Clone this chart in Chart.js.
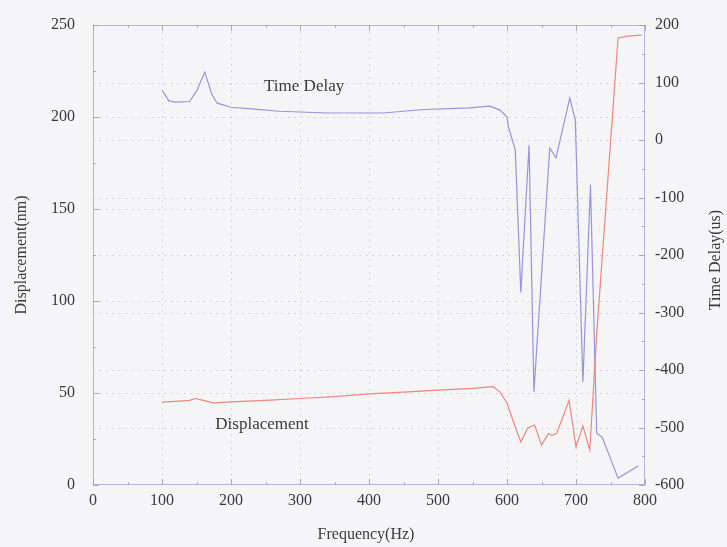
<!DOCTYPE html>
<html>
<head>
<meta charset="utf-8">
<script src="https://cdn.jsdelivr.net/npm/chart.js@4/dist/chart.umd.min.js"></script>
<style>
  body { margin: 0; background: #f5f5f7; }
  #wrap { width: 727px; height: 547px; }
</style>
</head>
<body>
<div id="wrap"><canvas id="chart" width="727" height="547"></canvas></div>
<script>
// Displacement (left axis, nm)
const dispFreq = [100, 120, 140, 148, 160, 175, 200, 250, 300, 350, 400, 450, 500, 550, 580,
    590, 600, 610, 620, 630, 640, 650, 660, 665, 672, 690, 700, 710, 720, 730, 761, 775, 795];
const dispValues = [45, 45.5, 46, 47, 46, 44.6, 45.2, 46, 47, 48, 49.5, 50.5, 51.6, 52.5, 53.5,
    50.5, 44.6, 33.7, 23.4, 31, 32.6, 21.7, 28, 27, 28, 46, 20.7, 32, 19, 82, 243, 244, 244.5];

// Time delay (right axis, us)
const delayFreq = [100, 110, 120, 140, 150, 162, 172, 180, 200, 230, 270, 340, 420, 480, 546, 575,
    590, 600, 602, 612, 620, 632, 639, 662, 671, 691, 699, 710, 721, 730, 738, 761, 790];
const delayValues = [87, 68, 66, 67, 85, 118, 80, 64, 57, 54, 50, 47, 47, 53, 56, 59,
    52, 40, 23, -17, -265, -9, -438, -14, -31, 73, 35, -421, -78, -510, -517, -588, -567];

const freqTicks = [0, 100, 200, 300, 400, 500, 600, 700, 800];
const dispTicks = [0, 50, 100, 150, 200, 250];
const delayTicks = [-600, -500, -400, -300, -200, -100, 0, 100, 200];

const serif = "'Liberation Serif', 'DejaVu Serif', serif";
const tickColor = "#3a3a3a";
const frameColor = "#b4b4e0";

function toPoints(xs, ys) {
    return xs.map((x, i) => ({x: x, y: ys[i]}));
}

// dotted grid, frame, small inward ticks
const gridAndFrame = {
    id: "gridAndFrame",
    beforeDraw(chart) {
        const ctx = chart.ctx;
        ctx.save();
        ctx.fillStyle = "#f5f5f7";
        ctx.fillRect(0, 0, chart.width, chart.height);
        ctx.restore();
    },
    beforeDatasetsDraw(chart) {
        const ctx = chart.ctx;
        const a = chart.chartArea;
        const x = chart.scales.x;
        const yL = chart.scales.yDisp;
        const yR = chart.scales.yDelay;
        ctx.save();
        ctx.lineWidth = 1;
        ctx.strokeStyle = "rgba(140,140,160,0.4)";
        ctx.setLineDash([1.5, 5]);
        freqTicks.slice(1, -1).forEach(v => {
            const px = Math.round(x.getPixelForValue(v)) + 0.5;
            ctx.beginPath(); ctx.moveTo(px, a.top); ctx.lineTo(px, a.bottom); ctx.stroke();
        });
        dispTicks.slice(1, -1).forEach(v => {
            const py = Math.round(yL.getPixelForValue(v)) + 0.5;
            ctx.beginPath(); ctx.moveTo(a.left, py); ctx.lineTo(a.right, py); ctx.stroke();
        });
        delayTicks.slice(1, -1).forEach(v => {
            const py = Math.round(yR.getPixelForValue(v)) + 0.5;
            ctx.beginPath(); ctx.moveTo(a.left, py); ctx.lineTo(a.right, py); ctx.stroke();
        });
        ctx.setLineDash([]);

        // frame
        ctx.strokeStyle = frameColor;
        ctx.strokeRect(a.left + 0.5, a.top + 0.5, a.right - a.left - 1, a.bottom - a.top - 1);

        // inward ticks, major and minor
        ctx.strokeStyle = "rgba(150,150,200,0.8)";
        for (let v = 0; v <= 800; v += 50) {
            const px = Math.round(x.getPixelForValue(v)) + 0.5;
            const len = v % 100 === 0 ? 6 : 3;
            ctx.beginPath(); ctx.moveTo(px, a.bottom); ctx.lineTo(px, a.bottom - len); ctx.stroke();
            ctx.beginPath(); ctx.moveTo(px, a.top); ctx.lineTo(px, a.top + len); ctx.stroke();
        }
        for (let v = 0; v <= 250; v += 25) {
            const py = Math.round(yL.getPixelForValue(v)) + 0.5;
            const len = v % 50 === 0 ? 6 : 3;
            ctx.beginPath(); ctx.moveTo(a.left, py); ctx.lineTo(a.left + len, py); ctx.stroke();
        }
        for (let v = -600; v <= 200; v += 50) {
            const py = Math.round(yR.getPixelForValue(v)) + 0.5;
            const len = v % 100 === 0 ? 6 : 3;
            ctx.beginPath(); ctx.moveTo(a.right, py); ctx.lineTo(a.right - len, py); ctx.stroke();
        }
        ctx.restore();
    },
    afterDraw(chart) {
        const ctx = chart.ctx;
        const area = chart.chartArea;
        const x = chart.scales.x;
        const yL = chart.scales.yDisp;
        const yR = chart.scales.yDelay;
        const midY = (area.top + area.bottom) / 2;

        ctx.save();
        ctx.fillStyle = tickColor;
        ctx.font = "16px " + serif;
        ctx.textAlign = "center";
        ctx.textBaseline = "middle";

        ctx.save();
        ctx.translate(22, midY);
        ctx.rotate(-Math.PI / 2);
        ctx.fillText("Displacement(nm)", 0, 0);
        ctx.restore();

        ctx.save();
        ctx.translate(716, midY + 5);
        ctx.rotate(-Math.PI / 2);
        ctx.fillText("Time Delay(us)", 0, 0);
        ctx.restore();

        ctx.fillText("Frequency(Hz)", (area.left + area.right) / 2 - 3, 535);

        ctx.font = "17px " + serif;
        ctx.fillText("Time Delay", x.getPixelForValue(306), yR.getPixelForValue(93));
        ctx.fillText("Displacement", x.getPixelForValue(245), yL.getPixelForValue(33));
        ctx.restore();
    }
};

function fixVertical(width) {
    return (s) => {
        s.width = width;
        s.paddingTop = 0;
        s.paddingBottom = 0;
    };
}

new Chart(document.getElementById("chart"), {
    type: "line",
    data: {
        datasets: [
            {
                label: "Displacement",
                data: toPoints(dispFreq, dispValues),
                yAxisID: "yDisp",
                borderColor: "rgba(240,115,100,0.85)",
                borderWidth: 1.2,
                pointRadius: 0,
                tension: 0,
            },
            {
                label: "Time Delay",
                data: toPoints(delayFreq, delayValues),
                yAxisID: "yDelay",
                borderColor: "rgba(125,125,215,0.8)",
                borderWidth: 1.2,
                pointRadius: 0,
                tension: 0,
            },
        ],
    },
    options: {
        responsive: false,
        animation: false,
        layout: { padding: { top: 25, left: 0, right: 0, bottom: 0 } },
        plugins: {
            legend: { display: false },
            tooltip: { enabled: false },
        },
        scales: {
            x: {
                type: "linear",
                min: 0,
                max: 800,
                afterBuildTicks: (s) => { s.ticks = freqTicks.map(v => ({value: v})); },
                afterFit: (s) => { s.height = 62; s.paddingLeft = 0; s.paddingRight = 0; },
                grid: { display: false, drawTicks: false },
                border: { display: false },
                ticks: { color: tickColor, font: { family: serif, size: 16 }, padding: 6, maxRotation: 0 },
            },
            yDisp: {
                type: "linear",
                position: "left",
                min: 0,
                max: 250,
                afterBuildTicks: (s) => { s.ticks = dispTicks.map(v => ({value: v})); },
                afterFit: fixVertical(93),
                grid: { display: false, drawTicks: false },
                border: { display: false },
                ticks: { color: tickColor, font: { family: serif, size: 16 }, padding: 18 },
            },
            yDelay: {
                type: "linear",
                position: "right",
                min: -600,
                max: 200,
                afterBuildTicks: (s) => { s.ticks = delayTicks.map(v => ({value: v})); },
                afterFit: fixVertical(82),
                grid: { display: false, drawTicks: false },
                border: { display: false },
                ticks: { color: tickColor, font: { family: serif, size: 16 }, padding: 10 },
            },
        },
    },
    plugins: [gridAndFrame],
});
</script>
</body>
</html>
